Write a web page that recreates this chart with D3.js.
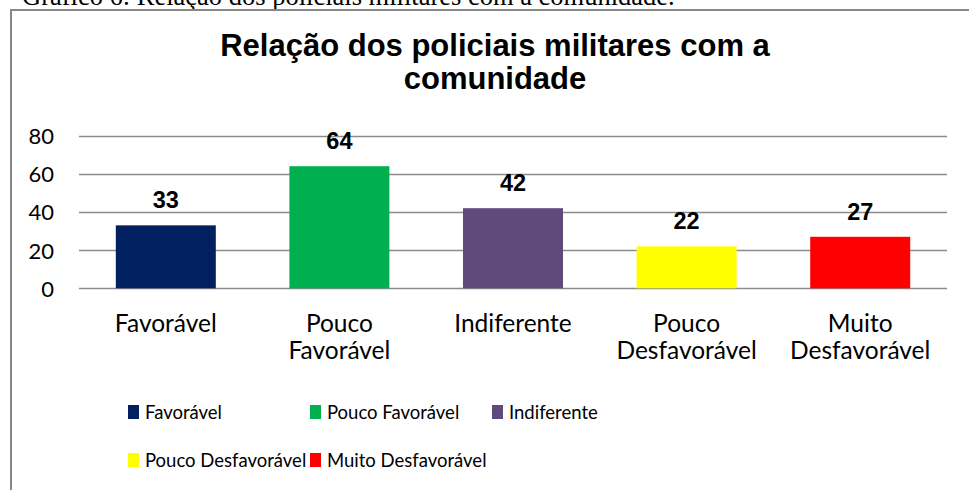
<!DOCTYPE html>
<html>
<head>
<meta charset="utf-8">
<script src="https://cdn.jsdelivr.net/npm/d3@7"></script>
<style>
  html, body { margin: 0; padding: 0; background: #fff; }
  svg { display: block; }
</style>
</head>
<body>
<svg id="chart" width="969" height="490"></svg>
<script>
const categories = ["Favorável", "Pouco Favorável", "Indiferente", "Pouco Desfavorável", "Muito Desfavorável"];
const categoryLines = [["Favorável"], ["Pouco", "Favorável"], ["Indiferente"], ["Pouco", "Desfavorável"], ["Muito", "Desfavorável"]];
const values = [33, 64, 42, 22, 27];
const colors = ["#002060", "#00B050", "#604A7B", "#FFFF00", "#FF0000"];
const yTicks = [0, 20, 40, 60, 80];
const titleLines = ["Relação dos policiais militares com a", "comunidade"];
const caption = "Gráfico 6: Relação dos policiais militares com a comunidade.";

const svg = d3.select("#chart");

// page caption (cut off at the top)
svg.append("text")
  .attr("x", 22).attr("y", 5)
  .attr("font-family", "Liberation Serif, serif")
  .attr("font-size", 26.5)
  .attr("fill", "#000")
  .text(caption);

// chart frame (extends beyond the window on the right and bottom)
svg.append("rect")
  .attr("x", 11).attr("y", 10)
  .attr("width", 1000).attr("height", 600)
  .attr("fill", "#fff")
  .attr("stroke", "#878787")
  .attr("stroke-width", 2);

// title
svg.append("text")
  .attr("font-family", "Liberation Sans, Arial, sans-serif")
  .attr("font-weight", "bold")
  .attr("font-size", 31)
  .attr("text-anchor", "middle")
  .selectAll("tspan").data(titleLines).join("tspan")
  .attr("x", 495)
  .attr("y", (d, i) => 56 + i * 33)
  .text(d => d);

const x = d3.scaleBand().domain(categories).range([79, 947]).paddingInner(0.424).paddingOuter(0.212);
const y = d3.scaleLinear().domain([0, 80]).range([288.3, 135.7]);

// gridlines
svg.append("g").selectAll("line").data(yTicks).join("line")
  .attr("x1", 79).attr("x2", 947)
  .attr("y1", d => Math.round(y(d)) + 0.5).attr("y2", d => Math.round(y(d)) + 0.5)
  .attr("stroke", "#8c8c8c").attr("stroke-width", 1.5);

// y axis labels
const yAxis = d3.axisLeft(y).tickValues(yTicks).tickSize(0).tickPadding(0);
const gy = svg.append("g").attr("transform", "translate(54,0)").call(yAxis);
gy.select(".domain").remove();
gy.selectAll("text")
  .attr("font-family", "Lato, sans-serif")
  .attr("font-size", 22)
  .attr("fill", "#000")
  .attr("dy", "0.36em");

// bars
svg.append("g").selectAll("rect").data(values).join("rect")
  .attr("x", (d, i) => x(categories[i]))
  .attr("width", x.bandwidth())
  .attr("y", d => y(d))
  .attr("height", d => y(0) - y(d))
  .attr("fill", (d, i) => colors[i]);

// value labels
svg.append("g").selectAll("text").data(values).join("text")
  .attr("x", (d, i) => x(categories[i]) + x.bandwidth() / 2)
  .attr("y", d => y(d) - 17)
  .attr("text-anchor", "middle")
  .attr("font-family", "Liberation Sans, Arial, sans-serif")
  .attr("font-weight", "bold")
  .attr("font-size", 23.5)
  .attr("fill", "#000")
  .text(d => d);

// category labels
const cat = svg.append("g").selectAll("text").data(categories).join("text")
  .attr("text-anchor", "middle")
  .attr("font-family", "Lato, sans-serif")
  .attr("font-size", 24.5)
  .attr("fill", "#000");
cat.selectAll("tspan").data((d, i) => categoryLines[i].map(t => ({t, c: d}))).join("tspan")
  .attr("x", d => x(d.c) + x.bandwidth() / 2)
  .attr("y", (d, j) => 332 + j * 27)
  .text(d => d.t);

// legend
const legendPos = [[128, 419], [310, 419], [492, 419], [128, 467], [310, 467]];
const lg = svg.append("g").selectAll("g").data(categories).join("g")
  .attr("transform", (d, i) => `translate(${legendPos[i][0]},${legendPos[i][1]})`);
lg.append("rect").attr("x", 0).attr("y", -14).attr("width", 11).attr("height", 14)
  .attr("fill", (d, i) => colors[i]);
lg.append("text").attr("x", 17).attr("y", 0)
  .attr("font-family", "Lato, sans-serif")
  .attr("font-size", 18.5)
  .attr("fill", "#000")
  .text(d => d);
</script>
</body>
</html>
